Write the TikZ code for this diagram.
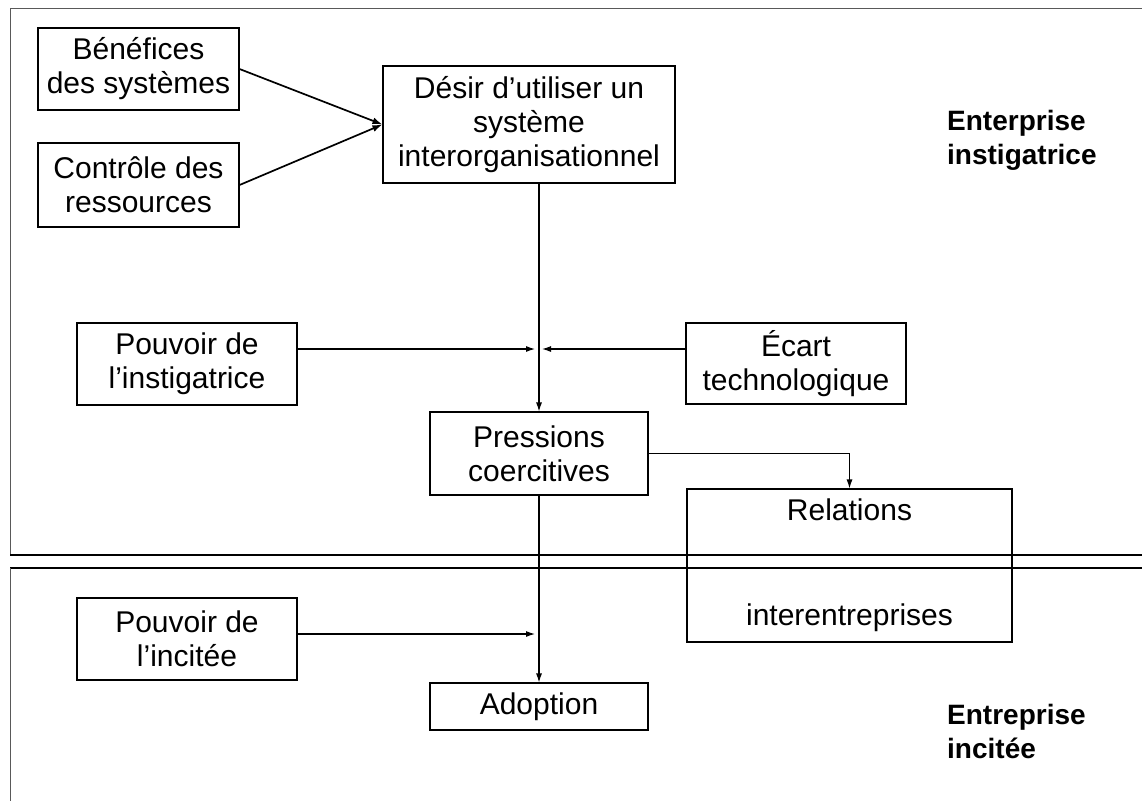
\documentclass[tikz,border=0pt]{standalone}
\usepackage{fontspec}
\setmainfont{Liberation Sans}
\usetikzlibrary{arrows.meta}
\begin{document}
\begin{tikzpicture}[x=1pt,y=-1pt,
  box/.style={draw, line width=1.1pt, align=center, inner sep=0pt,
    font=\fontsize{30}{34}\selectfont},
  conn/.style={line width=1.1pt, -{Latex[length=9pt,width=6pt]}},
  heavy/.style={line width=1.7pt, -{Latex[length=10pt,width=7pt]}},
  zone/.style={line width=1.2pt},
  faint/.style={line width=0.8pt, black!65},
  tag/.style={align=left, inner sep=0pt, anchor=west,
    font=\fontsize{28}{34}\bfseries\selectfont}]
\useasboundingbox (0,0) rectangle (1142,801);

% the two company zones
\draw[faint] (1142,8) -- (10,8) -- (10,555);
\draw[zone] (10,555) -- (1142,555);
\draw[zone] (1142,568) -- (10,568);
\draw[faint] (10,568) -- (10,801);

% boxes
\node[box, minimum width=201pt, minimum height=82pt] (ben) at (138.5,69) {Bénéfices\\des systèmes};
\node[box, minimum width=201pt, minimum height=84pt] (ctl) at (138.5,185) {Contrôle des\\ressources};
\node[box, minimum width=292pt, minimum height=117pt] (des) at (529,124.5) {Désir d’utiliser un\\système\\interorganisationnel};
\node[box, minimum width=220pt, minimum height=82pt] (pin) at (187,364) {Pouvoir de\\l’instigatrice};
\node[box, minimum width=220pt, minimum height=81pt] (eca) at (796,363.5) {Écart\\technologique};
\node[box, minimum width=218pt, minimum height=83pt] (pre) at (539,453.5) {Pressions\\coercitives};
\node[box, minimum width=325pt, minimum height=153pt] (rel) at (849.5,565.5) {Relations\\[71pt]interentreprises};
\node[box, minimum width=220pt, minimum height=82pt] (pic) at (187,639) {Pouvoir de\\l’incitée};
\node[box, minimum width=218pt, minimum height=47pt] (ado) at (539,706.5) {Adoption};

% zone labels
\node[tag] (lab1) at (947,140) {Enterprise\\instigatrice};
\node[tag] (lab2) at (947,731) {Entreprise\\incitée};

% meeting points on the main flow
\coordinate (jl) at (535,349);
\coordinate (jr) at (542,349);
\coordinate (jb) at (535,634);

% connectors
\draw[heavy] (ben.east) -- (des.west);
\draw[heavy] (ctl.east) -- (des.west);
\draw[conn] (pre.north |- des.south) -- (pre.north);
\draw[conn] (pin.east |- jl) -- (jl);
\draw[conn] (eca.west |- jr) -- (jr);
\draw[conn] (pre.east) -| (rel.north);
\draw[conn] (pre.south) -- (ado.north);
\draw[conn] (pic.east |- jb) -- (jb);
\end{tikzpicture}
\end{document}
